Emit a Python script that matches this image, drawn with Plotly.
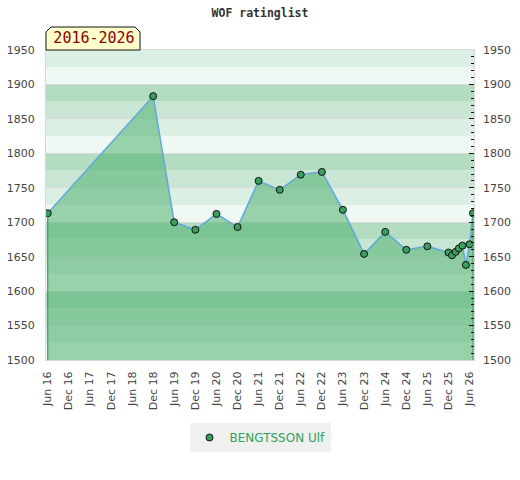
import plotly.graph_objects as go

# rating history
dates = ['2016-06-01', '2018-12-01', '2019-06-01', '2019-12-01', '2020-06-01',
         '2020-12-01', '2021-06-01', '2021-12-01', '2022-06-01', '2022-12-01',
         '2023-06-01', '2023-12-01', '2024-06-01', '2024-12-01', '2025-06-01',
         '2025-12-01', '2026-01-01', '2026-02-01', '2026-03-01', '2026-04-01',
         '2026-05-01', '2026-06-01', '2026-07-01']
ratings = [1713, 1883, 1700, 1689, 1712,
           1693, 1760, 1747, 1769, 1773,
           1718, 1654, 1686, 1660, 1665,
           1656, 1652, 1657, 1662, 1666,
           1638, 1668, 1713]
player = 'BENGTSSON Ulf'
period = '2016-2026'
y_min, y_max = 1500, 1950

band_colors = ['#f0f8f3', '#dcefe4', '#c8e6d3', '#b3dcc1']
fill_green = 'rgba(70,174,106,0.52)'
marker_green = '#3a9e5e'
tick_font = dict(family='DejaVu Sans', size=11, color='#444444')

W, H = 520, 480

fig = go.Figure()

fig.add_trace(go.Scatter(x=dates, y=ratings, mode='lines+markers',
                         fill='tozeroy', fillcolor=fill_green,
                         line=dict(color='#62a8dc', width=1.5),
                         marker=dict(size=7, color=marker_green,
                                     line=dict(color='#111111', width=1)),
                         showlegend=False, hoverinfo='x+y'))

# vertical edges of the filled area
fig.add_trace(go.Scatter(x=[dates[0], dates[0], None, dates[-1], dates[-1]],
                         y=[y_min, ratings[0], None, y_min, ratings[-1]],
                         mode='lines', line=dict(color=marker_green, width=1.2),
                         showlegend=False, hoverinfo='skip', yaxis='y2'))

# legend entry
fig.add_trace(go.Scatter(x=[None], y=[None], mode='markers', name=player,
                         marker=dict(size=7, color=marker_green,
                                     line=dict(color='#111111', width=1))))

# background stripes, 25 points each
shapes = []
for lo in range(y_min, y_max, 25):
    shapes.append(dict(type='rect', xref='paper', yref='y', x0=0, x1=1,
                       y0=lo, y1=lo + 25, layer='below', line=dict(width=0),
                       fillcolor=band_colors[(lo % 100) // 25]))

# period tab with clipped top corners
shapes.append(dict(type='path', xref='paper', yref='paper',
                   xsizemode='pixel', ysizemode='pixel', xanchor=0, yanchor=1,
                   path='M0,0 L94,0 L94,18 L89,23 L5,23 L0,18 Z',
                   fillcolor='#ffffcc', line=dict(color='#111111', width=1),
                   layer='above'))

fig.update_layout(
    width=W, height=H,
    margin=dict(l=46, r=46, t=50, b=120, autoexpand=False),
    paper_bgcolor='white', plot_bgcolor='white',
    shapes=shapes,
    title=dict(text='<b>WOF ratinglist</b>', x=0.5, xanchor='center',
               yref='container', y=1 - 13 / H, yanchor='middle',
               font=dict(family='DejaVu Sans Mono', size=11.5, color='#333333')),
    xaxis=dict(type='date', range=['2016-05-17', '2026-07-10'],
               tick0='2016-06-01', dtick='M6', tickformat='%b %y',
               tickangle=-90, tickfont=tick_font, showgrid=False,
               zeroline=False, showline=True, linecolor='#d8d8d8',
               mirror=True, ticks='', ticklabelstandoff=6, automargin=False),
    yaxis=dict(range=[y_min, y_max], dtick=50, tickfont=tick_font,
               showgrid=True, gridcolor='#d9d9d9', gridwidth=1,
               zeroline=False, showline=True, linecolor='#d8d8d8',
               mirror=True, ticks='', ticklabelstandoff=8, automargin=False),
    yaxis2=dict(range=[y_min, y_max], dtick=50, overlaying='y', side='right',
                tickfont=tick_font, showgrid=False, zeroline=False,
                ticks='inside', ticklen=5, tickcolor='#111111', tickwidth=1,
                minor=dict(dtick=10, ticks='inside', ticklen=3,
                           tickcolor='#111111', tickwidth=1, showgrid=False),
                ticklabelstandoff=8, automargin=False),
    legend=dict(orientation='h', x=0.5, xanchor='center', y=-0.25,
                yanchor='middle', bgcolor='#f0f0f0',
                font=dict(family='DejaVu Sans', size=12, color='#2ea35a')),
    annotations=[dict(text=period, xref='paper', yref='paper', x=0, y=1,
                      xanchor='left', yanchor='bottom', showarrow=False,
                      borderpad=3, width=88, height=17,
                      font=dict(family='DejaVu Sans Mono', size=15,
                                color='#8b0000'))],
)

# drop the default page margin so the figure sits at the window corner
fig.write_html('out.html', config={'displayModeBar': False},
               post_script="document.body.style.margin='0';")
